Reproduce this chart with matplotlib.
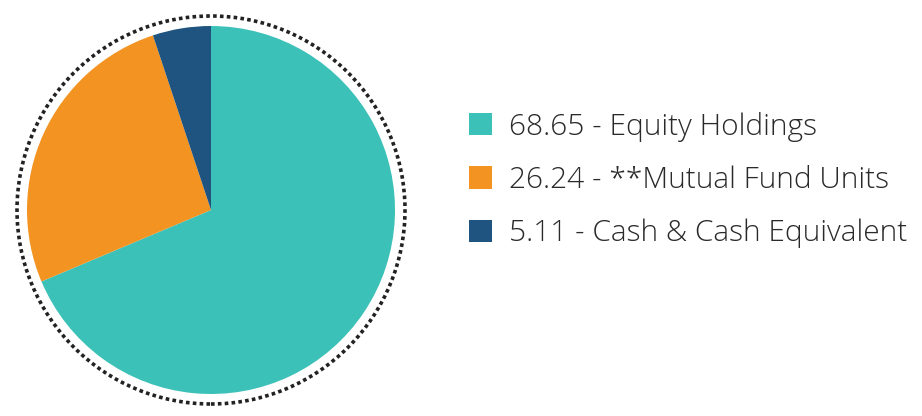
import matplotlib.pyplot as plt
from matplotlib.patches import Circle

categories = ['Equity Holdings', '**Mutual Fund Units', 'Cash & Cash Equivalent']
values = [68.65, 26.24, 5.11]
colors = ['#3cc1b9', '#f39322', '#1f5480']

W, H = 922, 416
fig = plt.figure(figsize=(W / 100, H / 100), dpi=100)
ax = fig.add_axes([0, 0, 1, 1])

cx, cy = 211, H - 210
wedges, _ = ax.pie(values, colors=colors, startangle=90, counterclock=False,
                   center=(cx, cy), radius=184, frame=True,
                   wedgeprops=dict(linewidth=0))
ax.set_xlim(0, W)
ax.set_ylim(0, H)
ax.set_aspect('equal')
ax.axis('off')

ring = Circle((cx, cy), 194, fill=False, edgecolor='#222222',
              linewidth=2.6, linestyle=(0, (1.0, 0.9)))
ax.add_patch(ring)

labels = ['%.2f - %s' % (v, c) for v, c in zip(values, categories)]
leg = ax.legend(wedges, labels, loc='center left',
                bbox_to_anchor=(469, H - 180), bbox_transform=ax.transData,
                frameon=False, borderpad=0, borderaxespad=0,
                handlelength=0.77, handleheight=0.77, handletextpad=0.56,
                labelspacing=0.80,
                prop={'family': ['Open Sans', 'DejaVu Sans'], 'size': 21.5, 'weight': 'light'})
for t in leg.get_texts():
    t.set_color('#2a2a2a')

fig.savefig('out.png', dpi=100)
